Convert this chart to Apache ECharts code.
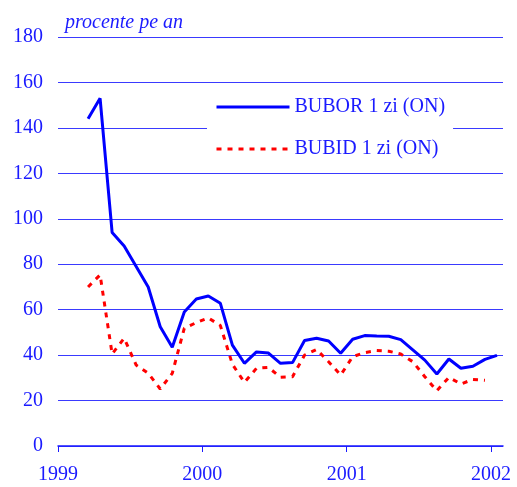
<!DOCTYPE html>
<html>
<head>
<meta charset="utf-8">
<script src="https://cdn.jsdelivr.net/npm/echarts@6/dist/echarts.min.js"></script>
<style>
  html, body { margin: 0; padding: 0; background: #fff; }
  #chart { width: 517px; height: 487px; }
</style>
</head>
<body>
<div id="chart"></div>
<script>
// luni: martie 1999 .. ianuarie 2002
var months = ['1999-03','1999-04','1999-05','1999-06','1999-07','1999-08','1999-09','1999-10','1999-11','1999-12',
  '2000-01','2000-02','2000-03','2000-04','2000-05','2000-06','2000-07','2000-08','2000-09','2000-10','2000-11','2000-12',
  '2001-01','2001-02','2001-03','2001-04','2001-05','2001-06','2001-07','2001-08','2001-09','2001-10','2001-11','2001-12',
  '2002-01'];
var bubor = [144, 153, 94, 88, 79, 70, 52.5, 43.5, 59, 64.7,
  66, 62.8, 44.4, 36.4, 41.4, 40.9, 36.4, 36.7, 46.4, 47.4, 46.2, 40.8,
  47, 48.6, 48.4, 48.3, 46.8, 42.3, 37.8, 31.7, 38.3, 34.2, 35.1, 38.1,
  39.9];
var bubid = [70, 75.3, 40.5, 47.4, 35.6, 32, 25.1, 32, 51.8, 54.3,
  56.4, 53, 36, 28, 34.2, 34.6, 30.2, 30.5, 40, 42.5, 37.1, 31.2,
  39.3, 41.1, 42, 41.7, 40.5, 37.1, 30.5, 24.3, 30.2, 27.3, 29.3, 28.9,
  null];
var yearTicks = [1999, 2000, 2001, 2002];

var blue = '#1a1aff';
var font = 'Liberation Serif';

// pozitia pe axa: mijlocul lunii
function pos(m) {
  var p = m.split('-');
  return +p[0] + (+p[1] - 0.5) / 12;
}
function pairs(vals) {
  return months.map(function (m, i) { return [pos(m), vals[i]]; });
}

var chart = echarts.init(document.getElementById('chart'));
var option = {
  animation: false,
  title: {
    text: 'procente pe an',
    left: 60, top: 8,
    textStyle: { color: blue, fontFamily: font, fontSize: 20, fontStyle: 'italic', fontWeight: 'normal' }
  },
  legend: {
    orient: 'vertical',
    left: 207, top: 88,
    padding: [9, 8, 6, 8],
    backgroundColor: '#fff',
    itemWidth: 73, itemHeight: 20, itemGap: 22,
    itemStyle: { opacity: 0 },
    lineStyle: { width: 3 },
    textStyle: { color: blue, fontFamily: font, fontSize: 20 },
    data: ['BUBOR 1 zi (ON)', 'BUBID 1 zi (ON)']
  },
  grid: { left: 58, right: 14, top: 37, bottom: 41 },
  xAxis: {
    type: 'value',
    min: 1999, max: 2002 + 1 / 12,
    splitLine: { show: false },
    axisLine: { lineStyle: { color: blue, width: 1.5 } },
    axisTick: { show: true, inside: false, length: 6, lineStyle: { color: blue }, customValues: yearTicks },
    axisLabel: {
      color: blue, fontFamily: font, fontSize: 20, margin: 19, customValues: yearTicks,
      formatter: function (v) { return String(Math.round(v)); }
    }
  },
  yAxis: {
    type: 'value',
    min: 0, max: 180, interval: 20,
    axisLine: { show: false },
    axisTick: { show: false },
    axisLabel: { color: blue, fontFamily: font, fontSize: 20, margin: 15 },
    splitLine: { lineStyle: { color: '#3a3aff', width: 1 } }
  },
  series: [
    {
      name: 'BUBOR 1 zi (ON)',
      type: 'line',
      symbol: 'none',
      data: pairs(bubor),
      lineStyle: { color: '#0000ff', width: 3 },
      itemStyle: { color: '#0000ff' },
      z: 3
    },
    {
      name: 'BUBID 1 zi (ON)',
      type: 'line',
      symbol: 'none',
      data: pairs(bubid),
      lineStyle: { color: '#ff0000', width: 3, type: [5, 6] },
      itemStyle: { color: '#ff0000' },
      z: 2
    }
  ]
};
chart.setOption(option);
window.onresize = chart.resize;
</script>
</body>
</html>
